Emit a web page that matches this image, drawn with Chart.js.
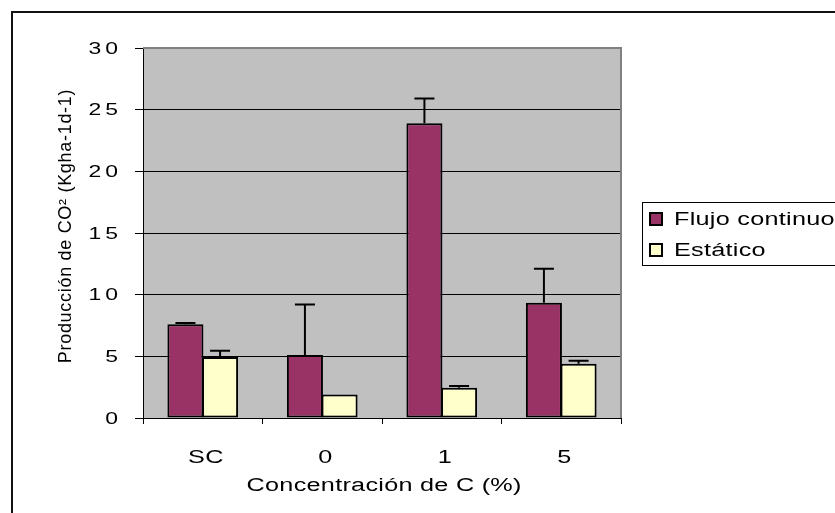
<!DOCTYPE html>
<html>
<head>
<meta charset="utf-8">
<script src="https://cdn.jsdelivr.net/npm/chart.js@4.4.1/dist/chart.umd.min.js"></script>
<style>
  html, body { margin: 0; padding: 0; background: #fff; }
  #wrap { width: 835px; height: 513px; }
</style>
</head>
<body>
<div id="wrap"><canvas id="ChartCO2" width="835" height="513"></canvas></div>
<script>
const categorias = ['SC', '0', '1', '5'];
const flujoContinuo = [7.6, 5.1, 23.9, 9.35];
const flujoError = [0.1, 4.1, 2.0, 2.75];
const estatico = [4.95, 1.9, 2.45, 4.4];
const estaticoError = [0.5, 0, 0.15, 0.25];
const ticksY = [0, 5, 10, 15, 20, 25, 30];

const tituloX = 'Concentración de C (%)';
const tituloY = 'Producción de CO² (Kgha-1d-1)';
const fuente = "'Liberation Sans', Arial, sans-serif";

const dataCO2 = {
    labels: categorias,
    datasets: [{
        label: 'Flujo continuo',
        data: flujoContinuo,
        errores: flujoError,
        backgroundColor: '#993366',
        borderColor: '#000',
        borderWidth: 2,
        borderSkipped: false
    }, {
        label: 'Estático',
        data: estatico,
        errores: estaticoError,
        backgroundColor: '#FFFFCC',
        borderColor: '#000',
        borderWidth: 2,
        borderSkipped: false
    }]
};

// texto ensanchado como lo dibuja Excel
function textoAncho(ctx, txt, x, y, align, size, sx, ls) {
    ctx.save();
    ctx.font = size + 'px ' + fuente;
    ctx.letterSpacing = ls + 'px';
    ctx.textAlign = 'left';
    ctx.textBaseline = 'middle';
    const w = (ctx.measureText(txt).width - ls) * sx;
    let x0 = x;
    if (align === 'center') x0 = x - w / 2;
    if (align === 'right') x0 = x - w;
    ctx.translate(x0, y);
    ctx.scale(sx, 1);
    ctx.fillStyle = '#000';
    ctx.fillText(txt, 0, 0);
    ctx.restore();
}

// fondo, marco, barras de error, leyenda y textos
const extras = {
    id: 'extras',
    beforeDraw(chart) {
        const ctx = chart.ctx;
        const a = chart.chartArea;
        ctx.save();
        ctx.fillStyle = '#fff';
        ctx.fillRect(0, 0, chart.width, chart.height);
        ctx.strokeStyle = '#111';
        ctx.lineWidth = 2;
        ctx.strokeRect(12, 12, 900, 600);
        ctx.fillStyle = '#C0C0C0';
        ctx.fillRect(a.left, a.top, a.right - a.left, a.bottom - a.top);
        ctx.restore();
    },
    afterDatasetsDraw(chart) {
        const ctx = chart.ctx;
        const y = chart.scales.y;
        ctx.save();
        ctx.strokeStyle = '#000';
        ctx.lineWidth = 2;
        chart.data.datasets.forEach((ds, i) => {
            const meta = chart.getDatasetMeta(i);
            meta.data.forEach((bar, j) => {
                const e = ds.errores[j];
                if (!e) return;
                const y0 = y.getPixelForValue(ds.data[j]);
                const y1 = y.getPixelForValue(ds.data[j] + e);
                ctx.beginPath();
                ctx.moveTo(bar.x, y0);
                ctx.lineTo(bar.x, y1);
                ctx.moveTo(bar.x - 10, y1);
                ctx.lineTo(bar.x + 10, y1);
                ctx.stroke();
            });
        });
        ctx.restore();
    },
    afterDraw(chart) {
        const ctx = chart.ctx;
        const a = chart.chartArea;
        const sx = chart.scales.x;
        const sy = chart.scales.y;
        ctx.save();
        // borde gris del area de trazado
        ctx.strokeStyle = '#808080';
        ctx.lineWidth = 2;
        ctx.beginPath();
        ctx.moveTo(a.left, a.top);
        ctx.lineTo(a.right, a.top);
        ctx.lineTo(a.right, a.bottom);
        ctx.stroke();

        // etiquetas de los ejes
        sy.ticks.forEach(t => {
            textoAncho(ctx, String(t.value), 118, sy.getPixelForValue(t.value) + 1, 'right', 17, 1.35, 3);
        });
        chart.data.labels.forEach((lab, i) => {
            textoAncho(ctx, lab, sx.getPixelForTick(i) + 3, 458, 'center', 18, 1.4, 0.3);
        });

        // leyenda
        ctx.fillStyle = '#fff';
        ctx.fillRect(642, 202, 300, 63);
        ctx.strokeStyle = '#000';
        ctx.lineWidth = 1;
        ctx.strokeRect(642.5, 202.5, 300, 63);
        const filas = [219, 250];
        chart.data.datasets.forEach((ds, i) => {
            ctx.fillStyle = ds.backgroundColor;
            ctx.fillRect(650, filas[i] - 6, 12, 12);
            ctx.lineWidth = 2;
            ctx.strokeStyle = '#000';
            ctx.strokeRect(650, filas[i] - 6, 12, 12);
            textoAncho(ctx, ds.label, 674, filas[i] + 1, 'left', 18, 1.4, 0.2);
        });

        // titulos de ejes
        textoAncho(ctx, tituloX, (a.left + a.right) / 2 + 2, 486, 'center', 18, 1.4, 0.2);
        ctx.translate(66, 226);
        ctx.rotate(-Math.PI / 2);
        ctx.font = '18px ' + fuente;
        ctx.fillStyle = '#000';
        ctx.textAlign = 'center';
        ctx.textBaseline = 'middle';
        ctx.letterSpacing = '0.7px';
        ctx.fillText(tituloY, 0, 0);
        ctx.restore();
    }
};

const configCO2 = {
    type: 'bar',
    data: dataCO2,
    plugins: [extras],
    options: {
        responsive: false,
        animation: false,
        categoryPercentage: 0.58,
        barPercentage: 1.04,
        layout: {
            padding: { left: 0, top: 48, right: 214, bottom: 0 }
        },
        plugins: {
            legend: { display: false },
            tooltip: { enabled: false }
        },
        scales: {
            x: {
                grid: {
                    drawOnChartArea: false,
                    tickLength: 6,
                    tickColor: '#000',
                    offset: true
                },
                border: { color: '#000', width: 1 },
                ticks: { display: false },
                afterFit(scale) { scale.height = 95; }
            },
            y: {
                min: 0,
                max: 30,
                afterBuildTicks(scale) {
                    scale.ticks = ticksY.map(v => ({ value: v }));
                },
                grid: {
                    color: '#000',
                    lineWidth: 1,
                    tickLength: 8,
                    tickColor: '#000'
                },
                border: { color: '#000', width: 1 },
                ticks: { display: false },
                afterFit(scale) { scale.width = 143; }
            }
        }
    }
};

const chartCO2 = new Chart(document.getElementById('ChartCO2'), configCO2);
</script>
</body>
</html>
